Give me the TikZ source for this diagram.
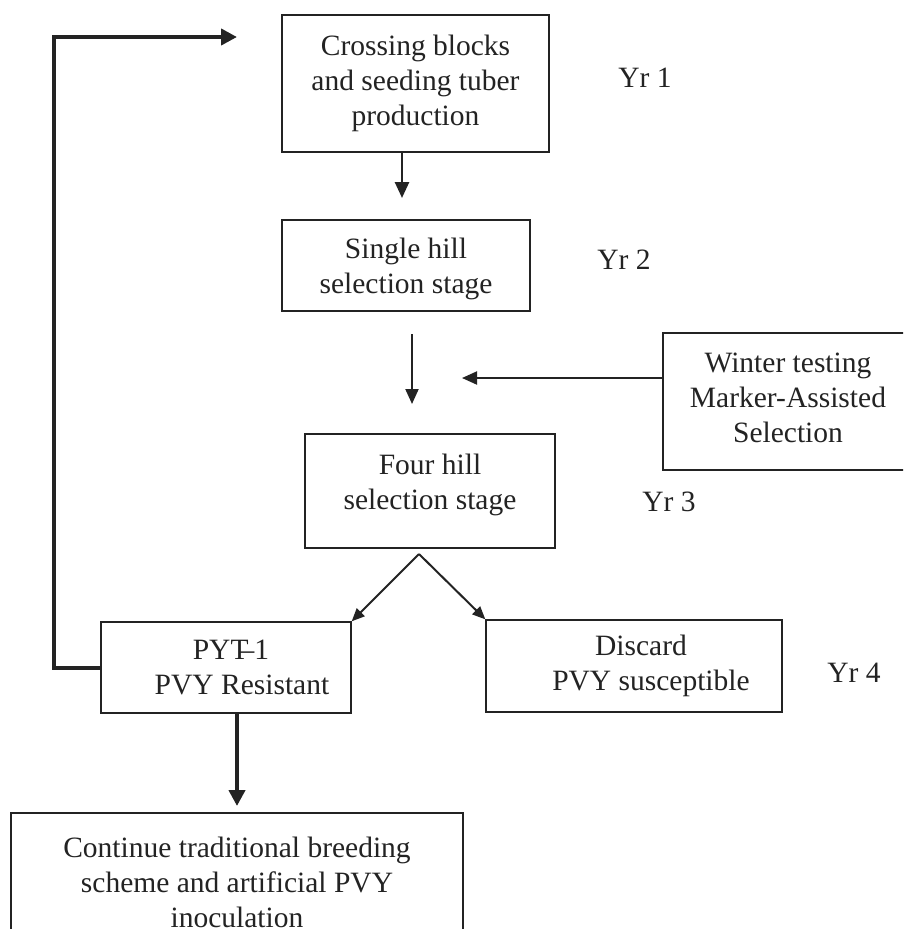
\documentclass[tikz,border=0pt]{standalone}
\usepackage{fontspec}
\setmainfont{Liberation Serif}
\usetikzlibrary{arrows.meta}
\definecolor{ink}{RGB}{35,35,35}
\begin{document}
\begin{tikzpicture}[x=1pt,y=-1pt,
  box/.style={draw=ink, line width=1.3pt, rectangle, inner sep=0pt, align=center,
    text=ink, font=\fontsize{29.5}{35}\selectfont},
  yrlabel/.style={text=ink, inner sep=0pt, font=\fontsize{29.5}{35}\selectfont},
  thinarrow/.style={draw=ink, line width=2pt, -{Triangle[length=15pt,width=13pt]}},
  midarrow/.style={draw=ink, line width=2.6pt, -{Triangle[length=16pt,width=14pt]}},
  thickarrow/.style={draw=ink, line width=4pt, -{Triangle[length=16pt,width=16pt]}},
  diagarrow/.style={draw=ink, line width=2pt, -{Triangle[length=13pt,width=11pt]}}]
\useasboundingbox (0,0) rectangle (903,929);
\clip (0,0) rectangle (903,929);
\fill[white] (0,0) rectangle (903,929);

% boxes
\node[box, minimum width=267pt, minimum height=137pt] (b1) at (415.5,83.5)
  {Crossing blocks\\and seeding tuber\\production\rule[-7pt]{0pt}{7pt}};
\node[box, minimum width=248pt, minimum height=91pt] (single) at (406,265.5)
  {\rule{0pt}{27pt}Single hill\\selection stage};
\node[box, minimum width=250pt, minimum height=114pt] (four) at (430,491)
  {Four hill\\selection stage\rule[-18pt]{0pt}{18pt}};
\node[box, minimum width=250pt, minimum height=137pt] (winter) at (788,401.5)
  {Winter testing\\Marker-Assisted\\Selection\rule[-8pt]{0pt}{8pt}};
\node[box, minimum width=250pt, minimum height=91pt] (pyt) at (226,667.5)
  {\hspace*{10pt}PYT\kern-.3em--1\\\hspace*{32pt}PVY Resistant};
\node[box, minimum width=296pt, minimum height=92pt] (disc) at (634,666)
  {\hspace*{14pt}Discard\\\hspace*{34pt}PVY susceptible};
\node[box, minimum width=452pt, minimum height=138pt] (cont) at (237,882)
  {Continue traditional breeding\\scheme and artificial PVY\\inoculation};

% year labels
\node[yrlabel] (yr1) at (645,78) {Yr 1};
\node[yrlabel] (yr2) at (624,260) {Yr 2};
\node[yrlabel] (yr3) at (669,502) {Yr 3};
\node[yrlabel] (yr4) at (854,673) {Yr 4};

% free ends
\coordinate (looptip) at (237,37);
\coordinate (t1) at (402,198);
\coordinate (s2) at (412,334);
\coordinate (t2) at (412,404);
\coordinate (t3) at (462,378);
\coordinate (apex) at (419,554);
\coordinate (t4) at (237,806);

% connectors
\draw[thickarrow] (pyt.west) -- ++(-46,0) |- (looptip);
\draw[midarrow] (b1.south -| t1) -- (t1);
\draw[thinarrow] (s2) -- (t2);
\draw[thinarrow] (winter.west |- t3) -- (t3);
\draw[diagarrow] (apex) -- (pyt.north east);
\draw[diagarrow] (apex) -- (disc.north west);
\draw[thickarrow] (pyt.south -| t4) -- (t4);
\end{tikzpicture}
\end{document}
